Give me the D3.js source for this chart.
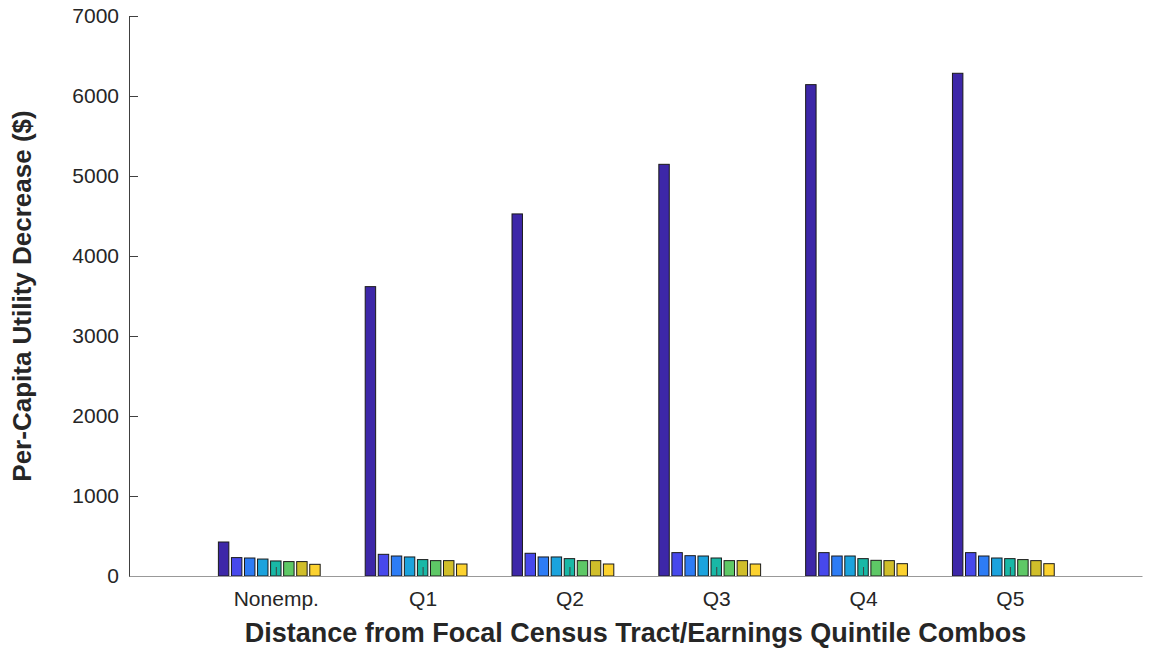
<!DOCTYPE html>
<html>
<head>
<meta charset="utf-8">
<script src="https://cdn.jsdelivr.net/npm/d3@7"></script>
<style>
  body { margin: 0; background: #fff; }
  svg text { font-family: "Liberation Sans", Arial, sans-serif; fill: #262626; }
</style>
</head>
<body>
<svg id="chart" width="1157" height="649"></svg>
<script>
// categories on the x axis
const categories = ["Nonemp.", "Q1", "Q2", "Q3", "Q4", "Q5"];
// nine series per group (last one is empty, it only takes a slot)
const series1 = [425, 3617, 4526, 5146, 6142, 6284];
const series2 = [230, 271, 284, 292, 292, 292];
const series3 = [225, 250, 238, 254, 250, 250];
const series4 = [212, 238, 238, 250, 250, 225];
const series5 = [188, 205, 217, 225, 217, 217];
const series6 = [180, 192, 192, 192, 196, 205];
const series7 = [180, 192, 192, 192, 192, 192];
const series8 = [146, 150, 150, 150, 154, 154];
const series9 = [0, 0, 0, 0, 0, 0];
const yTickValues = [0, 1000, 2000, 3000, 4000, 5000, 6000, 7000];

const seriesList = [series1, series2, series3, series4, series5, series6, series7, series8, series9];
const colors = ["#3d27a8", "#4748ec", "#2d7cf5", "#1ba3dd", "#19b8a6", "#5ec866", "#d0be2a", "#fcd22f", "#f9fb0e"];

// chart dimensions and margins
const width = 1157;
const height = 649;
const marginTop = 16;
const marginLeft = 129;
const marginRight = 15;
const marginBottom = 73;

const svg = d3.select("#chart");

// x is numeric, categories sit at 1..6 (matlab style)
const x = d3.scaleLinear()
  .domain([0, 6.9])
  .range([marginLeft, width - marginRight]);

const y = d3.scaleLinear()
  .domain([0, 7000])
  .range([height - marginBottom, marginTop]);

const nSeries = seriesList.length;
const slot = 0.8 / nSeries;
const barW = slot * 0.8;

// flatten into bar records
const bars = [];
seriesList.forEach((s, j) => {
  s.forEach((v, i) => {
    bars.push({cat: i + 1, j: j, value: v});
  });
});

svg.append("g")
  .selectAll("rect")
  .data(bars.filter(d => d.value > 0))
  .join("rect")
    .attr("x", d => x(d.cat + (d.j - (nSeries - 1) / 2) * slot - barW / 2))
    .attr("y", d => y(d.value))
    .attr("width", d => x(barW) - x(0))
    .attr("height", d => y(0) - y(d.value))
    .attr("fill", d => colors[d.j])
    .attr("stroke", "#1a1a1a")
    .attr("stroke-width", 1);

// y axis (ticks point inward)
const yAxis = svg.append("g")
  .attr("transform", `translate(${marginLeft},0)`)
  .call(d3.axisLeft(y).tickValues(yTickValues).tickFormat(d3.format("d"))
    .tickSizeInner(-9).tickSizeOuter(0).tickPadding(10));
yAxis.select(".domain").attr("stroke", "#404040");
yAxis.selectAll(".tick line").attr("stroke", "#404040");
yAxis.selectAll("text").attr("font-size", "21px").attr("fill", "#262626")
  .attr("x", -10);

// x axis
const xAxis = svg.append("g")
  .attr("transform", `translate(0,${y(0)})`)
  .call(d3.axisBottom(x)
    .tickValues(d3.range(1, categories.length + 1))
    .tickFormat(d => categories[d - 1])
    .tickSizeInner(-9).tickSizeOuter(0).tickPadding(15));
xAxis.select(".domain").attr("stroke", "#999");
xAxis.selectAll(".tick line").attr("stroke", "#404040");
xAxis.selectAll("text").attr("font-size", "21px").attr("fill", "#262626");

// axis titles
svg.append("text")
  .attr("x", (marginLeft + width - marginRight) / 2)
  .attr("y", 642)
  .attr("text-anchor", "middle")
  .attr("font-size", "27px")
  .attr("font-weight", "bold")
  .text("Distance from Focal Census Tract/Earnings Quintile Combos");

svg.append("text")
  .attr("transform", `translate(31,${(marginTop + height - marginBottom) / 2}) rotate(-90)`)
  .attr("text-anchor", "middle")
  .attr("font-size", "26px")
  .attr("font-weight", "bold")
  .text("Per-Capita Utility Decrease ($)");
</script>
</body>
</html>
